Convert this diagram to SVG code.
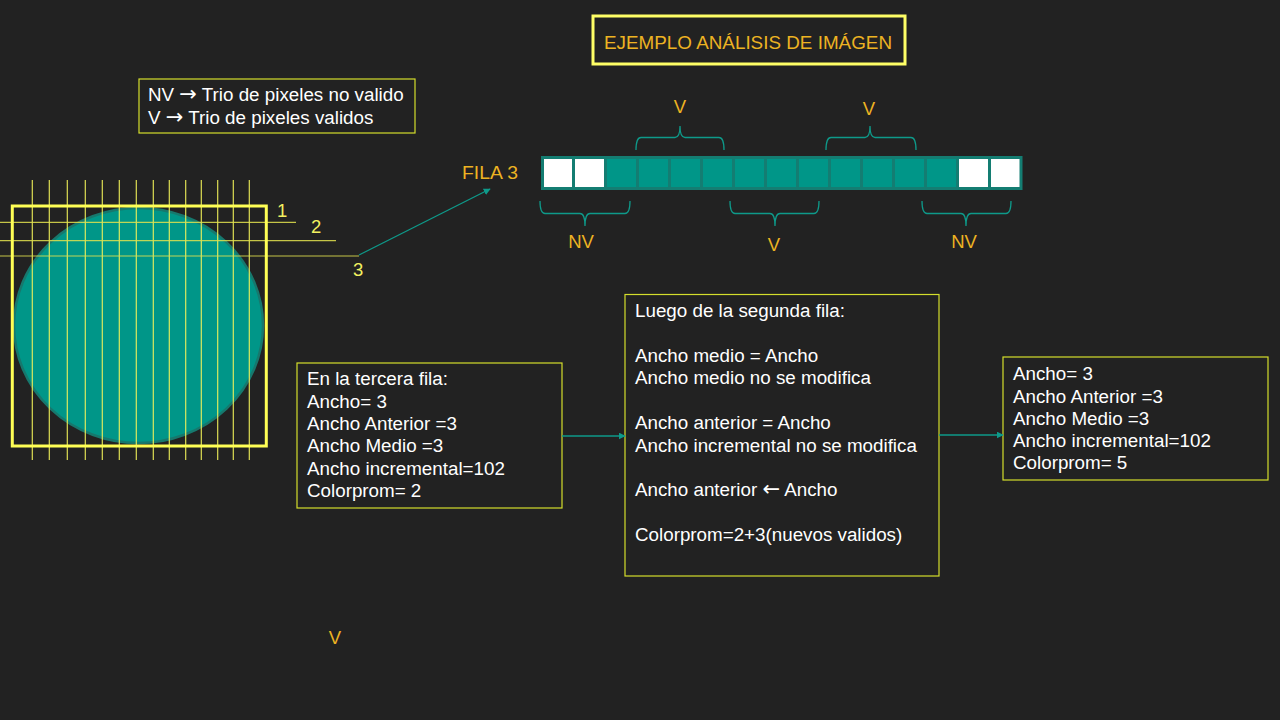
<svg xmlns="http://www.w3.org/2000/svg" width="1280" height="720" viewBox="0 0 1280 720">
<defs>
<style>
.w{font-family:"Liberation Sans",Arial,sans-serif;font-size:18.8px;fill:#ffffff}
.o{font-family:"Liberation Sans",Arial,sans-serif;font-size:18.5px;fill:#EDB322}
.y{font-family:"Liberation Sans",Arial,sans-serif;font-size:18.5px;fill:#F2F060}
.ar{font-family:"DejaVu Sans",sans-serif;font-size:21px}
.box{fill:none;stroke:#D4DE2C;stroke-width:1.2}
.vl{stroke:#F4F45A;stroke-width:1.2;opacity:0.9}
.hl{stroke:#E2E24E;stroke-width:1.2;opacity:0.85}
.br{fill:none;stroke:#0E9A8A;stroke-width:1.3}
.conn{stroke:#0E9A8A;stroke-width:1.3;fill:none}
.cellT{fill:#009688;stroke:#147D72;stroke-width:3}
.cellW{fill:#ffffff;stroke:#147D72;stroke-width:3}
</style>
<marker id="ah" viewBox="0 0 10 10" refX="9" refY="5" markerWidth="7" markerHeight="7" orient="auto" markerUnits="userSpaceOnUse">
<path d="M0,0 L10,5 L0,10 Z" fill="#0E9A8A"/>
</marker>
</defs>
<rect width="1280" height="720" fill="#222222"/>

<g id="title">
<rect x="593" y="16" width="312" height="48" fill="none" stroke="#FFFF66" stroke-width="3"/>
<text class="o" x="604" y="49" font-size="17" textLength="288" lengthAdjust="spacingAndGlyphs">EJEMPLO ANÁLISIS DE IMÁGEN</text>
</g>

<g id="legend">
<rect class="box" x="139" y="79" width="276" height="54"/>
<text class="w" x="148" y="101">NV <tspan class="ar">→</tspan> Trio de pixeles no valido</text>
<text class="w" x="148" y="124">V <tspan class="ar">→</tspan> Trio de pixeles validos</text>
</g>

<g id="grid-image">
<ellipse cx="138.5" cy="325.5" rx="124.5" ry="117.5" fill="#009688" stroke="#17786D" stroke-width="2.5"/>
<g class="vl">
<line x1="32.3" y1="180" x2="32.3" y2="460"/>
<line x1="49.3" y1="180" x2="49.3" y2="460"/>
<line x1="67.3" y1="180" x2="67.3" y2="460"/>
<line x1="85.3" y1="180" x2="85.3" y2="460"/>
<line x1="102.3" y1="180" x2="102.3" y2="460"/>
<line x1="119.3" y1="180" x2="119.3" y2="460"/>
<line x1="136.3" y1="180" x2="136.3" y2="460"/>
<line x1="153.3" y1="180" x2="153.3" y2="460"/>
<line x1="169.3" y1="180" x2="169.3" y2="460"/>
<line x1="185.7" y1="180" x2="185.7" y2="460"/>
<line x1="201.3" y1="180" x2="201.3" y2="460"/>
<line x1="217.7" y1="180" x2="217.7" y2="460"/>
<line x1="233.3" y1="180" x2="233.3" y2="460"/>
<line x1="249.3" y1="180" x2="249.3" y2="460"/>
</g>
<g class="hl">
<line x1="0" y1="222.3" x2="296" y2="222.3"/>
<line x1="0" y1="240.7" x2="336" y2="240.7"/>
<line x1="0" y1="256" x2="359" y2="256"/>
</g>
<rect x="12.3" y="206" width="254" height="240" fill="none" stroke="#FFFF55" stroke-width="3"/>
<text class="y" x="277" y="217">1</text>
<text class="y" x="311" y="233">2</text>
<text class="y" x="353" y="276">3</text>
</g>

<g id="fila3">
<text class="o" x="462" y="179" textLength="56" lengthAdjust="spacingAndGlyphs">FILA 3</text>
<rect class="cellW" x="542.5" y="157.5" width="31" height="31"/>
<rect class="cellW" x="573.5" y="157.5" width="32" height="31"/>
<rect class="cellT" x="605.5" y="157.5" width="32" height="31"/>
<rect class="cellT" x="637.5" y="157.5" width="32" height="31"/>
<rect class="cellT" x="669.5" y="157.5" width="32" height="31"/>
<rect class="cellT" x="701.5" y="157.5" width="32" height="31"/>
<rect class="cellT" x="733.5" y="157.5" width="32" height="31"/>
<rect class="cellT" x="765.5" y="157.5" width="32" height="31"/>
<rect class="cellT" x="797.5" y="157.5" width="32" height="31"/>
<rect class="cellT" x="829.5" y="157.5" width="32" height="31"/>
<rect class="cellT" x="861.5" y="157.5" width="32" height="31"/>
<rect class="cellT" x="893.5" y="157.5" width="32" height="31"/>
<rect class="cellT" x="925.5" y="157.5" width="32" height="31"/>
<rect class="cellW" x="957.5" y="157.5" width="32" height="31"/>
<rect class="cellW" x="989.5" y="157.5" width="31.5" height="31"/>
</g>

<g id="braces">
<path class="br" d="M636,150 Q636,137.5 641,137.5 L675,137.5 Q680,137.5 680,126 Q680,137.5 685,137.5 L719,137.5 Q724,137.5 724,150"/>
<path class="br" d="M826,150 Q826,137.5 831,137.5 L865,137.5 Q870,137.5 870,126 Q870,137.5 875,137.5 L911,137.5 Q916,137.5 916,150"/>
<path class="br" d="M540,201 Q540,213.5 545,213.5 L580,213.5 Q585,213.5 585,226 Q585,213.5 590,213.5 L625,213.5 Q630,213.5 630,201"/>
<path class="br" d="M730,201 Q730,213.5 735,213.5 L770,213.5 Q775,213.5 775,226 Q775,213.5 780,213.5 L814,213.5 Q819,213.5 819,201"/>
<path class="br" d="M922,201 Q922,213.5 927,213.5 L961,213.5 Q966,213.5 966,226 Q966,213.5 971,213.5 L1006,213.5 Q1011,213.5 1011,201"/>
<text class="o" x="680" y="113" text-anchor="middle">V</text>
<text class="o" x="869" y="115" text-anchor="middle">V</text>
<text class="o" x="581" y="248" text-anchor="middle">NV</text>
<text class="o" x="774" y="251" text-anchor="middle">V</text>
<text class="o" x="964" y="248" text-anchor="middle">NV</text>
</g>

<g id="box-tercera">
<rect class="box" x="297" y="363" width="265" height="145"/>
<text class="w" x="307" y="385">En la tercera fila:</text>
<text class="w" x="307" y="408">Ancho= 3</text>
<text class="w" x="307" y="430">Ancho Anterior =3</text>
<text class="w" x="307" y="452">Ancho Medio =3</text>
<text class="w" x="307" y="475">Ancho incremental=102</text>
<text class="w" x="307" y="497">Colorprom= 2</text>
</g>

<g id="box-segunda">
<rect class="box" x="625" y="294.5" width="314" height="281.5"/>
<text class="w" x="635" y="317">Luego de la segunda fila:</text>
<text class="w" x="635" y="362">Ancho medio = Ancho</text>
<text class="w" x="635" y="384">Ancho medio no se modifica</text>
<text class="w" x="635" y="429">Ancho anterior = Ancho</text>
<text class="w" x="635" y="452">Ancho incremental no se modifica</text>
<text class="w" x="635" y="496">Ancho anterior <tspan class="ar">←</tspan> Ancho</text>
<text class="w" x="635" y="541">Colorprom=2+3(nuevos validos)</text>
</g>

<g id="box-resultado">
<rect class="box" x="1003" y="357" width="265" height="123"/>
<text class="w" x="1013" y="380">Ancho= 3</text>
<text class="w" x="1013" y="403">Ancho Anterior =3</text>
<text class="w" x="1013" y="425">Ancho Medio =3</text>
<text class="w" x="1013" y="447">Ancho incremental=102</text>
<text class="w" x="1013" y="469">Colorprom= 5</text>
</g>

<g id="connectors">
<line class="conn" x1="359" y1="255" x2="490" y2="189" marker-end="url(#ah)"/>
<line class="conn" x1="562" y1="436" x2="625" y2="436" marker-end="url(#ah)"/>
<line class="conn" x1="939" y1="435" x2="1003" y2="435" marker-end="url(#ah)"/>
</g>

<text class="o" x="335" y="644" text-anchor="middle">V</text>
</svg>
